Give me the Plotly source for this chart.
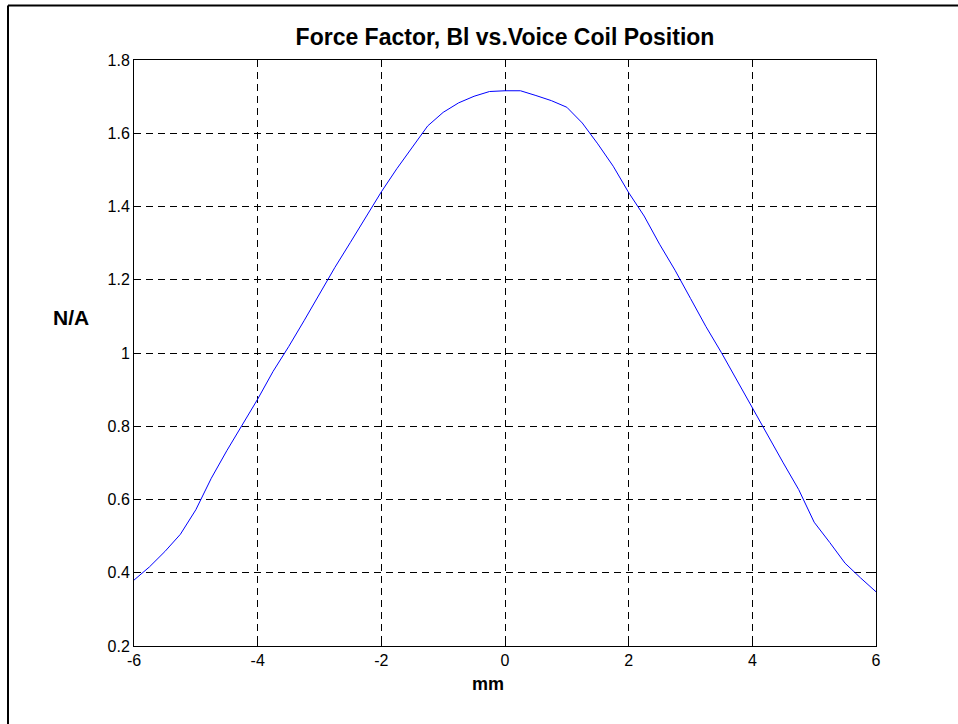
import plotly.graph_objects as go

# Voice coil excursion (mm) and the measured force factor Bl (N/A)
position_mm = [
    -6.0, -5.75, -5.5, -5.25, -5.0, -4.75, -4.5, -4.25, -4.0, -3.75,
    -3.5, -3.25, -3.0, -2.75, -2.5, -2.25, -2.0, -1.75, -1.5, -1.25,
    -1.0, -0.75, -0.5, -0.25, 0.0, 0.25, 0.5, 0.75, 1.0, 1.25,
    1.5, 1.75, 2.0, 2.25, 2.5, 2.75, 3.0, 3.25, 3.5, 3.75,
    4.0, 4.25, 4.5, 4.75, 5.0, 5.25, 5.5, 5.75, 6.0,
]
bl_force_factor = [
    0.380, 0.416, 0.458, 0.505, 0.572, 0.658, 0.733, 0.803, 0.874, 0.950,
    1.017, 1.088, 1.163, 1.234, 1.302, 1.370, 1.440, 1.503, 1.563, 1.620,
    1.657, 1.683, 1.701, 1.714, 1.716, 1.716, 1.703, 1.689, 1.671, 1.628,
    1.571, 1.510, 1.438, 1.374, 1.297, 1.226, 1.149, 1.072, 1.001, 0.925,
    0.850, 0.772, 0.700, 0.627, 0.538, 0.483, 0.426, 0.386, 0.348,
]

x_ticks = [-6, -4, -2, 0, 2, 4, 6]
y_ticks = [0.2, 0.4, 0.6, 0.8, 1, 1.2, 1.4, 1.6, 1.8]

W, H = 958, 724
L, R, T, B = 134, 82, 60, 78
plot_w = W - L - R
plot_h = H - T - B

font_family = "Liberation Sans, Arial, sans-serif"

fig = go.Figure()
fig.add_trace(go.Scatter(
    x=position_mm,
    y=bl_force_factor,
    mode="lines",
    line=dict(color="#0000ff", width=1),
    showlegend=False,
    hoverinfo="x+y",
))

axis_common = dict(
    showline=True,
    linecolor="black",
    linewidth=1,
    mirror="ticks",
    ticks="inside",
    ticklen=5,
    tickcolor="black",
    tickwidth=1,
    showgrid=True,
    gridcolor="black",
    gridwidth=1,
    griddash="7px,5px",
    zeroline=False,
    tickfont=dict(family=font_family, size=16, color="black"),
)

fig.update_xaxes(
    range=[-6, 6],
    tickvals=x_ticks,
    ticktext=[str(v) for v in x_ticks],
    **axis_common,
)
fig.update_yaxes(
    range=[0.2, 1.8],
    tickvals=y_ticks,
    ticktext=[f"{v:g}" for v in y_ticks],
    **axis_common,
)

# figure frame (top and left edges of the outer box)
frame_x = (8 - L) / plot_w
frame_y = 1 + (T - 5.5) / plot_h
fig.add_shape(type="line", xref="paper", yref="paper",
              x0=frame_x, y0=frame_y, x1=2.0, y1=frame_y,
              line=dict(color="black", width=2))
fig.add_shape(type="line", xref="paper", yref="paper",
              x0=frame_x, y0=frame_y, x1=frame_x, y1=-1.0,
              line=dict(color="black", width=2))

# axis labels
fig.add_annotation(
    text="<b>mm</b>", xref="paper", yref="paper",
    x=(488 - L) / plot_w, y=-(684 - (T + plot_h)) / plot_h,
    showarrow=False, xanchor="center", yanchor="middle",
    font=dict(family=font_family, size=18, color="black"),
)
fig.add_annotation(
    text="<b>N/A</b>", xref="paper", yref="paper",
    x=(71 - L) / plot_w, y=(H - B - 317) / plot_h,
    showarrow=False, xanchor="center", yanchor="middle",
    font=dict(family=font_family, size=21, color="black"),
)

fig.update_layout(
    width=W,
    height=H,
    margin=dict(l=L, r=R, t=T, b=B, pad=0),
    paper_bgcolor="white",
    plot_bgcolor="white",
    title=dict(
        text="<b>Force Factor, Bl vs.Voice Coil Position</b>",
        x=(L + plot_w / 2) / W,
        xanchor="center",
        y=1 - 37 / H,
        yanchor="middle",
        font=dict(family=font_family, size=23, color="black"),
    ),
)

fig.write_html("out.html")
